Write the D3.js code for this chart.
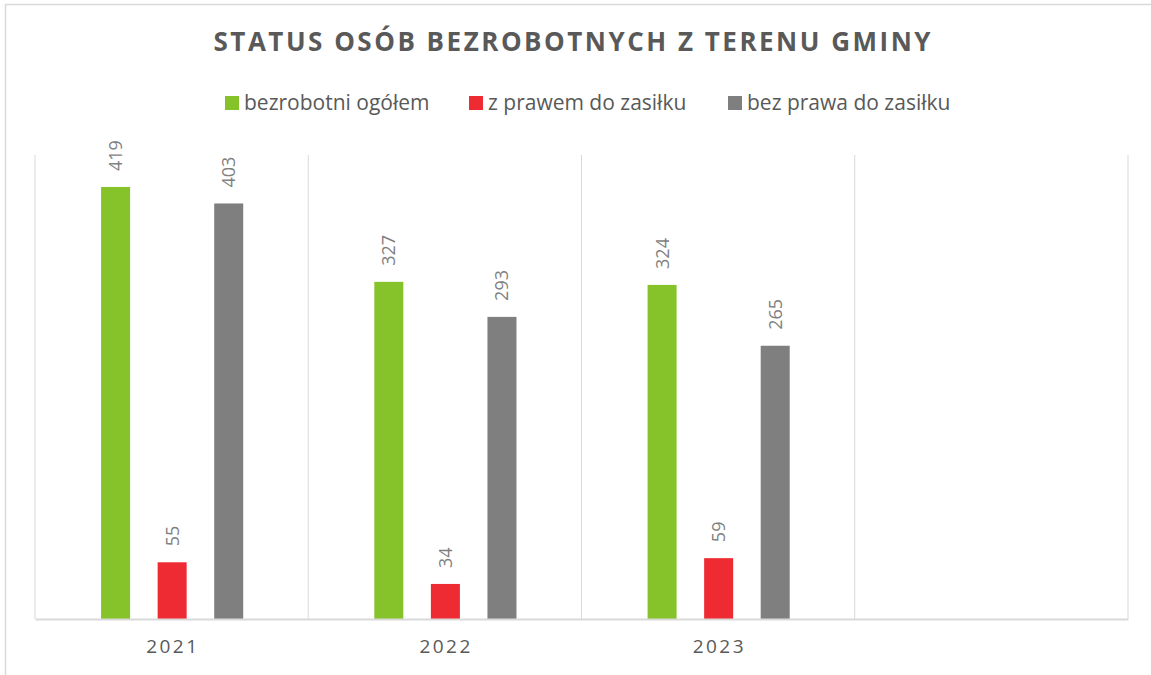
<!DOCTYPE html>
<html>
<head>
<meta charset="utf-8">
<script src="https://cdn.jsdelivr.net/npm/d3@7"></script>
<style>
  body { margin: 0; background: #fff; }
  svg { display: block; font-family: "Open Sans", sans-serif; }
</style>
</head>
<body>
<svg></svg>
<script>
let width = 1151;
let height = 675;

// Data
let title = "STATUS OSÓB BEZROBOTNYCH Z TERENU GMINY";
let years = ["2021", "2022", "2023", ""];
let seriesNames = ["bezrobotni ogółem", "z prawem do zasiłku", "bez prawa do zasiłku"];
let seriesColors = ["#86c22a", "#ee2b33", "#7f7f7f"];
let total = [419, 327, 324];
let withBenefit = [55, 34, 59];
let withoutBenefit = [403, 293, 265];

let seriesValues = [total, withBenefit, withoutBenefit];

let svg = d3.select("svg").attr("width", width).attr("height", height);

// chart frame
svg.append("rect")
  .attr("x", 5.5).attr("y", 4.5)
  .attr("width", width + 20).attr("height", height + 20)
  .attr("fill", "none").attr("stroke", "#d9d9d9").attr("stroke-width", 1.5);

// Scales
let xScale = d3.scaleBand().domain(years).range([35, 1128]).padding(0);
let bw = xScale.bandwidth();
let xInner = d3.scaleBand()
  .domain(seriesNames)
  .range([bw * 0.2418, bw * 0.762])
  .paddingInner(0.487)
  .paddingOuter(0);
let yScale = d3.scaleLinear().domain([0, 450]).range([619, 155]);

// vertical gridlines at category boundaries
let bounds = years.map((y) => xScale(y)).concat([xScale.range()[1]]);
svg.append("g")
  .selectAll("line")
  .data(bounds)
  .enter()
  .append("line")
  .attr("x1", (d) => d).attr("x2", (d) => d)
  .attr("y1", yScale(450)).attr("y2", yScale(0))
  .attr("stroke", "#d9d9d9").attr("stroke-width", 1);

// title
svg.append("text")
  .attr("x", 572).attr("y", 50.5)
  .attr("text-anchor", "middle")
  .attr("font-size", 26).attr("font-weight", 700)
  .attr("fill", "#595959")
  .attr("textLength", 717).attr("lengthAdjust", "spacing")
  .text(title);

// legend
let legendX = [225, 469, 728];
let legend = svg.append("g")
  .selectAll("g")
  .data(seriesNames)
  .enter()
  .append("g")
  .attr("transform", (d, i) => "translate(" + legendX[i] + ",96)");
legend.append("rect")
  .attr("width", 14).attr("height", 14)
  .attr("fill", (d, i) => seriesColors[i]);
legend.append("text")
  .attr("x", 19).attr("y", 14)
  .attr("font-size", 21).attr("fill", "#595959")
  .text((d) => d);

// bars
let groups = svg.append("g")
  .selectAll("g")
  .data(seriesNames)
  .enter()
  .append("g")
  .attr("fill", (d, i) => seriesColors[i]);

groups.each(function (name, si) {
  let g = d3.select(this);
  let vals = seriesValues[si];
  g.selectAll("rect")
    .data(vals)
    .enter()
    .append("rect")
    .attr("x", (v, i) => xScale(years[i]) + xInner(name))
    .attr("y", (v) => yScale(v))
    .attr("width", xInner.bandwidth())
    .attr("height", (v) => yScale(0) - yScale(v));

  // rotated value labels
  g.selectAll("text")
    .data(vals)
    .enter()
    .append("text")
    .attr("transform", (v, i) => {
      let cx = xScale(years[i]) + xInner(name) + xInner.bandwidth() / 2;
      return "translate(" + (cx + 6.5) + "," + (yScale(v) - 16) + ") rotate(-90)";
    })
    .attr("font-size", 18)
    .attr("fill", "#7f7f7f")
    .text((v) => v);
});

// x axis
let xAxis = d3.axisBottom(xScale).tickSize(0).tickPadding(21);
let axisG = svg.append("g")
  .attr("transform", "translate(0," + yScale(0) + ")")
  .call(xAxis);
axisG.select(".domain").attr("stroke", "#d9d9d9").attr("stroke-width", 2);
axisG.selectAll(".tick text")
  .attr("font-family", "Open Sans, sans-serif")
  .attr("font-size", 19)
  .attr("letter-spacing", 2.5)
  .attr("fill", "#595959")
  .attr("dx", 1.25);
</script>
</body>
</html>
